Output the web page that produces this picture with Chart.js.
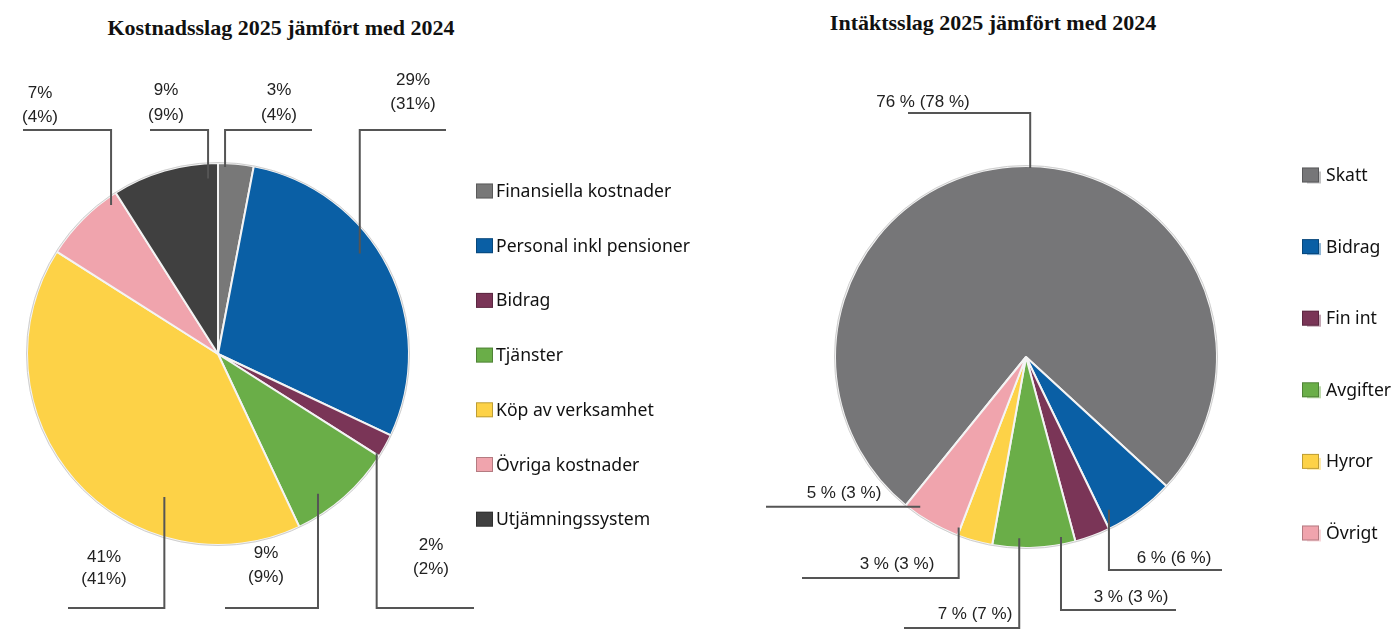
<!DOCTYPE html>
<html lang="sv">

<head>
    <meta charset="UTF-8">
    <title>Kostnadsslag och intäktsslag</title>
    <script src="https://cdn.jsdelivr.net/npm/chart.js"></script>
    <style>
        body { margin: 0; background: #fff; }
        #wrap { position: relative; width: 1395px; height: 630px; overflow: hidden; }
        canvas { position: absolute; left: 0; top: 0; }
        .title {
            position: absolute; transform: translateX(-50%); white-space: nowrap;
            font: bold 22px 'Liberation Serif', serif; line-height: 26px; color: #111;
        }
    </style>
</head>

<body>
    <div id="wrap">
        <div class="title" style="left:281px; top:15px;">Kostnadsslag 2025 jämfört med 2024</div>
        <div class="title" style="left:993px; top:10px;">Intäktsslag 2025 jämfört med 2024</div>
        <canvas id="costChart" width="1395" height="630"></canvas>
        <canvas id="incomeChart" width="1395" height="630"></canvas>
    </div>

    <script>
        // kostnadsslag (andel i %), 2025 och 2024
        const costLabels = ['Finansiella kostnader', 'Personal inkl pensioner', 'Bidrag', 'Tjänster',
            'Köp av verksamhet', 'Övriga kostnader', 'Utjämningssystem'];
        const cost2025 = [3, 29, 2, 9, 41, 7, 9];
        const cost2024 = [4, 31, 2, 9, 41, 4, 9];

        // intäktsslag (andel i %), 2025 och 2024
        const incomeLabels = ['Skatt', 'Bidrag', 'Fin int', 'Avgifter', 'Hyror', 'Övrigt'];
        const income2025 = [76, 6, 3, 7, 3, 5];
        const income2024 = [78, 6, 3, 7, 3, 3];

        const costColors = ['#787878', '#0a5fa5', '#7a3557', '#6aae48', '#fdd247', '#f0a4ad', '#404040'];
        const incomeColors = ['#767678', '#0a5fa5', '#7a3557', '#6aae48', '#fdd247', '#f0a4ad'];

        // var etiketterna sitter: t = läge i sektorn (0..1), f = andel av radien,
        // lineY = höjd på vågrät linje, endX = var linjen slutar, text = textens mitt
        const costCallouts = [
            { t: 0.2, f: 0.98, lineY: 130, endX: 312, textX: 279, textY: [90, 115] },
            { t: 0.42, f: 0.91, lineY: 130, endX: 446, textX: 413, textY: [80, 104] },
            { t: 0.95, f: 0.98, lineY: 608, endX: 474, textX: 431, textY: [545, 569] },
            { t: 0.68, f: 0.90, lineY: 608, endX: 225, textX: 266, textY: [553, 577] },
            { t: 0.31, f: 0.80, lineY: 608, endX: 68, textX: 104, textY: [557, 579] },
            { t: 0.87, f: 0.96, lineY: 130, endX: 23, textX: 40, textY: [93, 117] },
            { t: 0.9, f: 0.92, lineY: 130, endX: 150, textX: 166, textY: [90, 115] },
        ];
        const incomeCallouts = [
            { t: 0.52, f: 0.99, lineY: 113, endX: 908, textX: 923, textY: [102] },
            { t: 0.875, f: 0.91, lineY: 570, endX: 1222, textX: 1174, textY: [558] },
            { t: 1.37, f: 0.96, lineY: 610, endX: 1176, textX: 1131, textY: [597] },
            { t: 0.68, f: 0.95, lineY: 628, endX: 904, textX: 975, textY: [614] },
            { t: 1.05, f: 0.96, lineY: 578, endX: 802, textX: 897, textY: [564] },
            { t: 0.79, f: 0.96, lineY: null, endX: 766, textX: 844, textY: [493] },
        ];

        // ritar ytterkant, hänvisningslinjer och procenttexter
        const calloutPlugin = {
            id: 'callouts',
            afterDatasetsDraw(chart, args, opts) {
                const ctx = chart.ctx;
                const arcs = chart.getDatasetMeta(0).data;
                if (!arcs.length) return;

                ctx.save();
                const first = arcs[0];
                ctx.beginPath();
                ctx.arc(first.x, first.y, first.outerRadius + 0.5, 0, Math.PI * 2);
                ctx.strokeStyle = '#cfcfcf';
                ctx.lineWidth = 1;
                ctx.stroke();

                arcs.forEach((arc, i) => {
                    const c = opts.layout[i];
                    const a = arc.startAngle + c.t * (arc.endAngle - arc.startAngle);
                    const px = arc.x + Math.cos(a) * arc.outerRadius * c.f;
                    const py = arc.y + Math.sin(a) * arc.outerRadius * c.f;
                    const ly = c.lineY === null ? py : c.lineY;

                    ctx.beginPath();
                    ctx.moveTo(px, py);
                    ctx.lineTo(px, ly);
                    ctx.lineTo(c.endX, ly);
                    ctx.strokeStyle = '#555';
                    ctx.lineWidth = 2;
                    ctx.stroke();

                    const lines = opts.text(i);
                    ctx.fillStyle = '#222';
                    ctx.font = '17px "Liberation Sans", Arial, sans-serif';
                    ctx.textAlign = 'center';
                    ctx.textBaseline = 'middle';
                    lines.forEach((s, k) => ctx.fillText(s, c.textX, c.textY[k]));
                });
                ctx.restore();
            }
        };

        // förklaring till höger om cirkeln
        const sideLegendPlugin = {
            id: 'sideLegend',
            afterDraw(chart, args, opts) {
                const ctx = chart.ctx;
                const colors = chart.data.datasets[0].backgroundColor;
                ctx.save();
                ctx.font = '17.6px "Noto Sans", sans-serif';
                ctx.textBaseline = 'middle';
                ctx.textAlign = 'left';
                chart.data.labels.forEach((lab, i) => {
                    const y = opts.y0 + i * opts.step;
                    if (opts.shadow) {
                        ctx.globalAlpha = 0.45;
                        ctx.fillStyle = colors[i];
                        ctx.fillRect(opts.x + 5, y - opts.h / 2 + 4, opts.w - 3, opts.h - 3);
                        ctx.globalAlpha = 1;
                    }
                    ctx.fillStyle = colors[i];
                    ctx.fillRect(opts.x, y - opts.h / 2, opts.w, opts.h);
                    ctx.strokeStyle = 'rgba(0,0,0,0.25)';
                    ctx.lineWidth = 1;
                    ctx.strokeRect(opts.x + 0.5, y - opts.h / 2 + 0.5, opts.w - 1, opts.h - 1);
                    ctx.fillStyle = '#111';
                    ctx.fillText(lab, opts.textX, y + 1);
                });
                ctx.restore();
            }
        };

        function drawPie(tag, labels, values, colors, rotation, padding, callouts, text, legend) {
            const ctx = document.getElementById(tag);
            new Chart(ctx, {
                type: 'pie',
                data: {
                    labels: labels,
                    datasets: [{
                        data: values,
                        backgroundColor: colors,
                        borderColor: '#f4f4f4',
                        borderWidth: 2,
                    }]
                },
                options: {
                    responsive: false,
                    animation: false,
                    rotation: rotation,
                    layout: { padding: padding },
                    plugins: {
                        legend: { display: false },
                        tooltip: { enabled: false },
                        callouts: { layout: callouts, text: text },
                        sideLegend: legend,
                    }
                },
                plugins: [calloutPlugin, sideLegendPlugin]
            });
        }

        drawPie('costChart', costLabels, cost2025, costColors, 0,
            { left: 26, right: 985, top: 162, bottom: 84 },
            costCallouts,
            (i) => [cost2025[i] + '%', '(' + cost2024[i] + '%)'],
            { x: 476, w: 17, h: 15, y0: 191, step: 54.7, textX: 496, shadow: false });

        drawPie('incomeChart', incomeLabels, income2025, incomeColors, 219,
            { left: 834, right: 177, top: 165, bottom: 81 },
            incomeCallouts,
            (i) => [income2025[i] + ' % (' + income2024[i] + ' %)'],
            { x: 1302, w: 17, h: 15, y0: 175, step: 71.6, textX: 1326, shadow: true });
    </script>
</body>

</html>
